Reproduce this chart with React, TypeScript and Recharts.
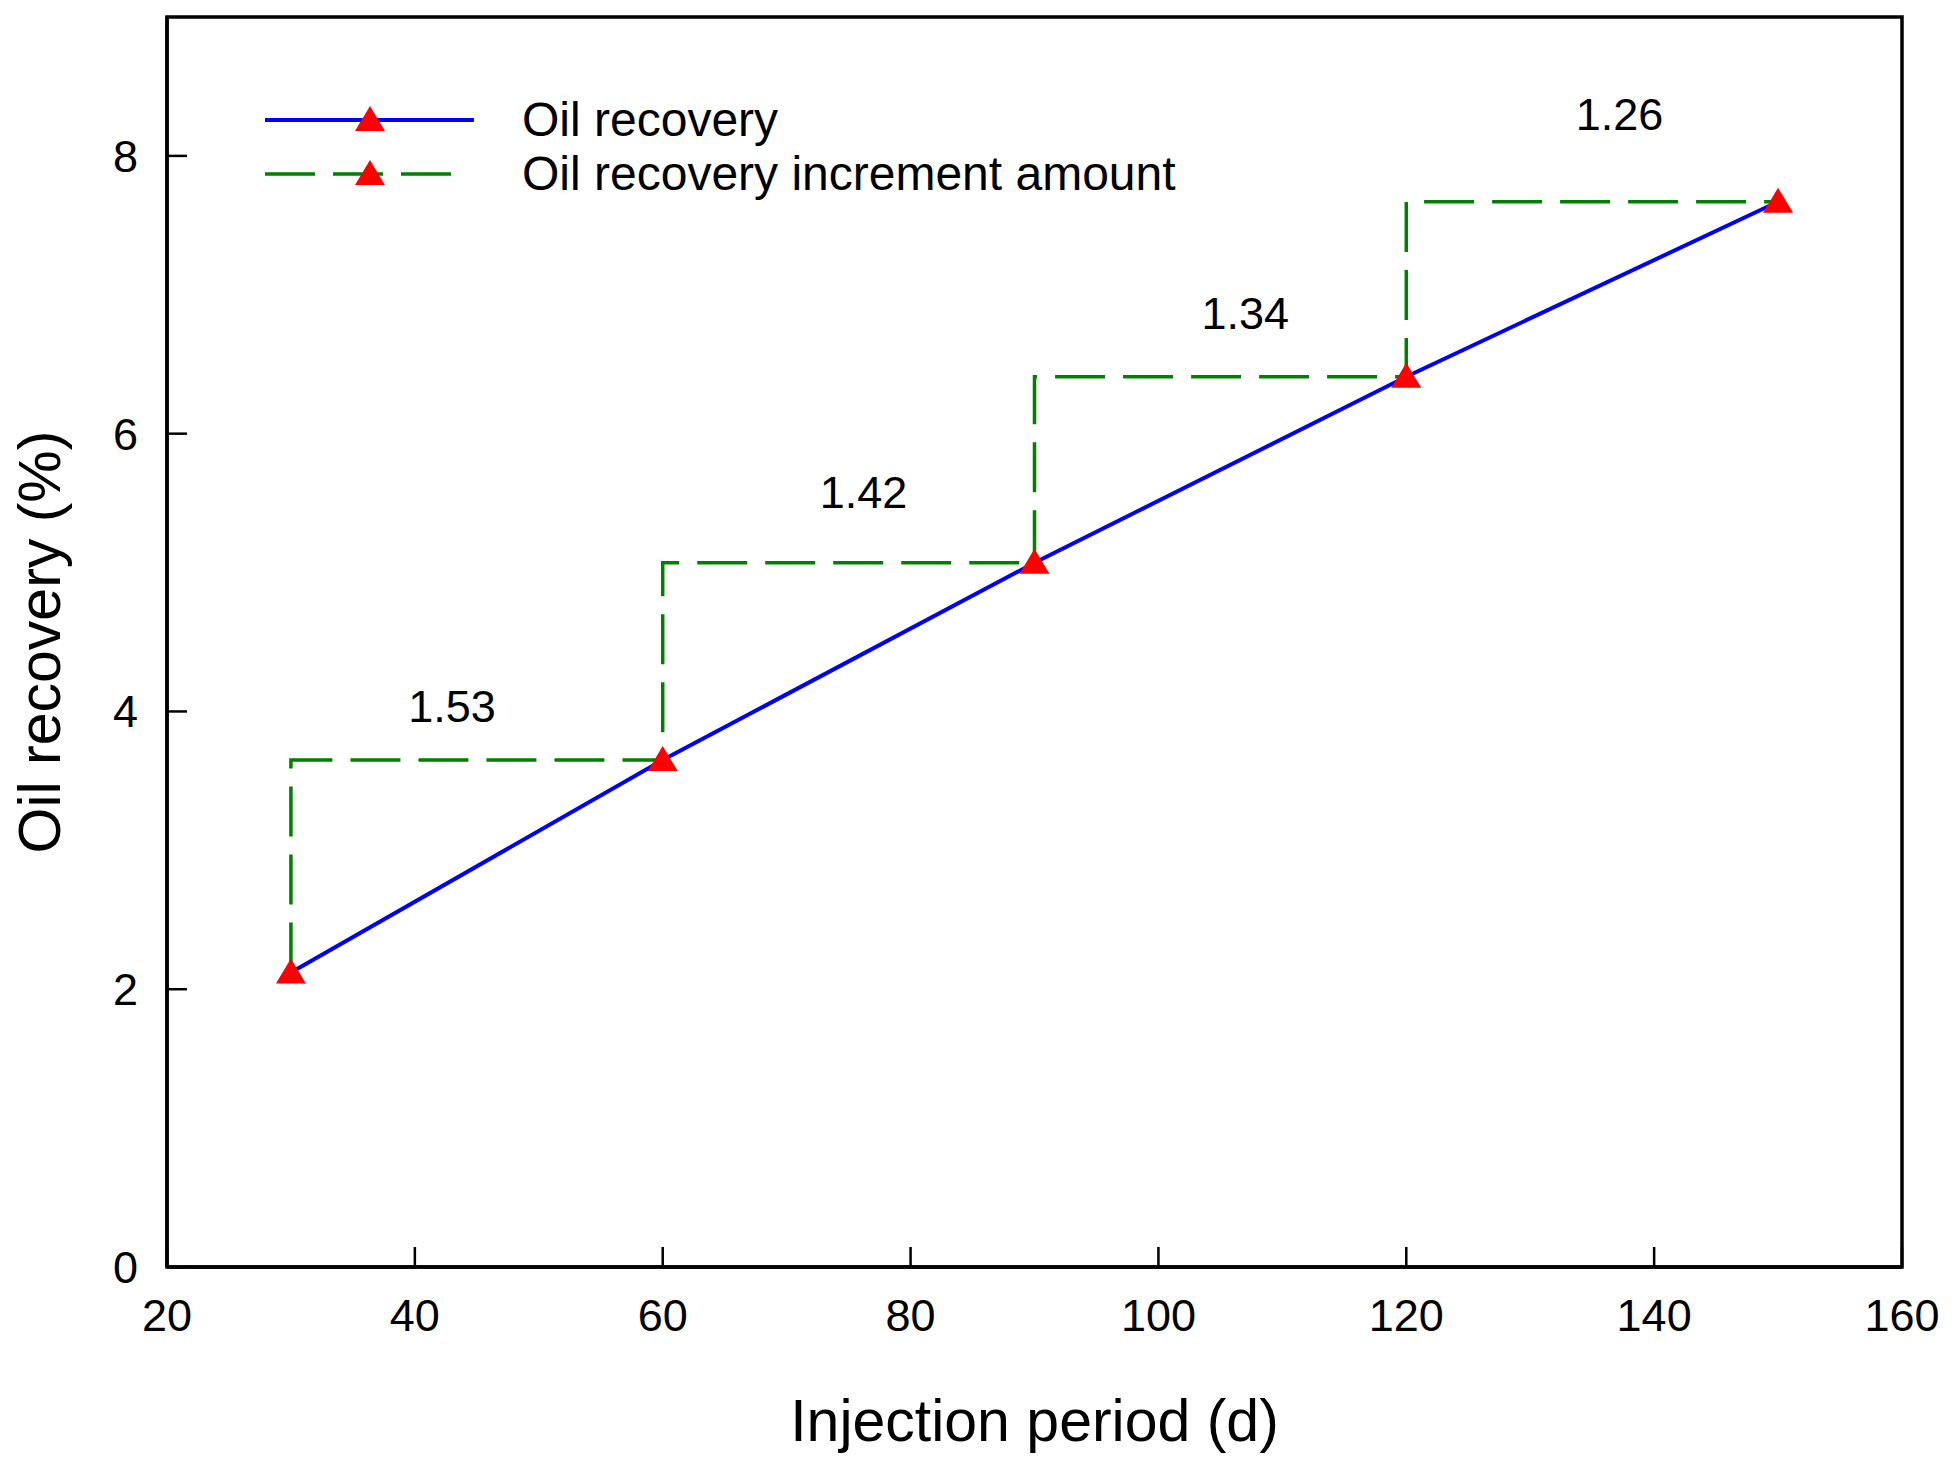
import React from 'react';
import { LineChart, Line, XAxis, YAxis, ReferenceDot, ReferenceArea, Legend } from 'recharts';

const injectionDays = [30, 60, 90, 120, 150];
const oilRecovery = [2.12, 3.65, 5.07, 6.41, 7.67];
const incrementTexts = ['1.53', '1.42', '1.34', '1.26'];
const incrementLabelX = [43, 76.2, 107, 137.2];
const incrementLabelY = [4.04, 5.58, 6.87, 8.3];
const xTicks = [20, 40, 60, 80, 100, 120, 140, 160];
const yTicks = [0, 2, 4, 6, 8];
const seriesNames = ['Oil recovery', 'Oil recovery increment amount'];

const data = injectionDays.map((d, i) => ({ day: d, recovery: oilRecovery[i] }));
const labels = incrementTexts.map((t, i) => ({ text: t, x: incrementLabelX[i], y: incrementLabelY[i] }));

const FONT = '"Liberation Sans", Arial, sans-serif';

const Triangle = (props: any) => {
  const { cx, cy } = props;
  if (cx == null || cy == null) return null;
  return (
    <polygon
      points={`${cx},${cy - 14} ${cx - 15},${cy + 11} ${cx + 15},${cy + 11}`}
      fill="#ff0000"
      stroke="none"
    />
  );
};

const LegendContent = () => (
  <div style={{ fontFamily: FONT, fontSize: 48, color: '#000', textAlign: 'left' }}>
    {seriesNames.map((name, i) => (
      <div key={name} style={{ display: 'flex', alignItems: 'center', height: 54, whiteSpace: 'nowrap' }}>
        <svg width={210} height={30} style={{ display: 'block', flexShrink: 0 }}>
          <line
            x1={0}
            y1={15}
            x2={i === 0 ? 209 : 186}
            y2={15}
            stroke={i === 0 ? '#0000ff' : '#008000'}
            strokeWidth={i === 0 ? 4 : 3.5}
            strokeDasharray={i === 0 ? undefined : '50 18'}
          />
          <polygon points="105,1 90,26 120,26" fill="#ff0000" />
        </svg>
        <span style={{ marginLeft: 47, lineHeight: '54px', whiteSpace: 'nowrap', flexShrink: 0 }}>{name}</span>
      </div>
    ))}
  </div>
);

export default function App() {
  return (
    <LineChart
      width={1944}
      height={1460}
      data={data}
      margin={{ top: 9, right: 50, bottom: 0, left: 0 }}
      style={{ fontFamily: FONT }}
    >
      <XAxis
        dataKey="day"
        type="number"
        domain={[20, 160]}
        ticks={xTicks}
        interval={0}
        height={201}
        axisLine={{ stroke: '#000', strokeWidth: 3.5 }}
        tickLine={{ stroke: '#000', strokeWidth: 2.5 }}
        tickSize={-20}
        tickMargin={52}
        tick={{ fill: '#000', fontSize: 45, fontFamily: FONT }}
        label={(p: any) => {
          const vb = p.viewBox || {};
          return (
            <text
              x={vb.x + vb.width / 2}
              y={1433}
              textAnchor="middle"
              fontSize={59}
              fontFamily={FONT}
              fill="#000"
            >
              Injection period (d)
            </text>
          );
        }}
      />
      <YAxis
        type="number"
        domain={[0, 9]}
        ticks={yTicks}
        interval={0}
        width={159}
        axisLine={{ stroke: '#000', strokeWidth: 3.5 }}
        tickLine={{ stroke: '#000', strokeWidth: 2.5 }}
        tickSize={-20}
        tickMargin={49}
        tick={{ fill: '#000', fontSize: 45, fontFamily: FONT }}
        label={(p: any) => {
          const vb = p.viewBox || {};
          const cy = vb.y + vb.height / 2;
          return (
            <text
              x={52}
              y={cy}
              transform={`rotate(-90, 52, ${cy})`}
              textAnchor="middle"
              fontSize={59}
              fontFamily={FONT}
              fill="#000"
            >
              Oil recovery (%)
            </text>
          );
        }}
      />
      <ReferenceArea
        x1={20}
        x2={160}
        y1={0}
        y2={9}
        fill="none"
        fillOpacity={0}
        stroke="#000"
        strokeWidth={3.5}
        ifOverflow="visible"
      />
      <Legend
        layout="vertical"
        align="center"
        verticalAlign="middle"
        wrapperStyle={{ top: 85, left: 257, width: 1000 }}
        content={<LegendContent />}
      />
      <Line
        type="stepBefore"
        dataKey="recovery"
        stroke="#008000"
        strokeWidth={3.5}
        strokeDasharray="50 18"
        dot={false}
        activeDot={false}
        isAnimationActive={false}
        legendType="none"
      />
      <Line
        type="linear"
        dataKey="recovery"
        stroke="#0000ff"
        strokeWidth={4}
        dot={<Triangle />}
        activeDot={false}
        isAnimationActive={false}
      />
      {labels.map((l) => (
        <ReferenceDot
          key={l.text}
          x={l.x}
          y={l.y}
          r={0}
          fill="none"
          stroke="none"
          label={{ value: l.text, position: 'center', fontSize: 45, fill: '#000', fontFamily: FONT }}
        />
      ))}
    </LineChart>
  );
}
